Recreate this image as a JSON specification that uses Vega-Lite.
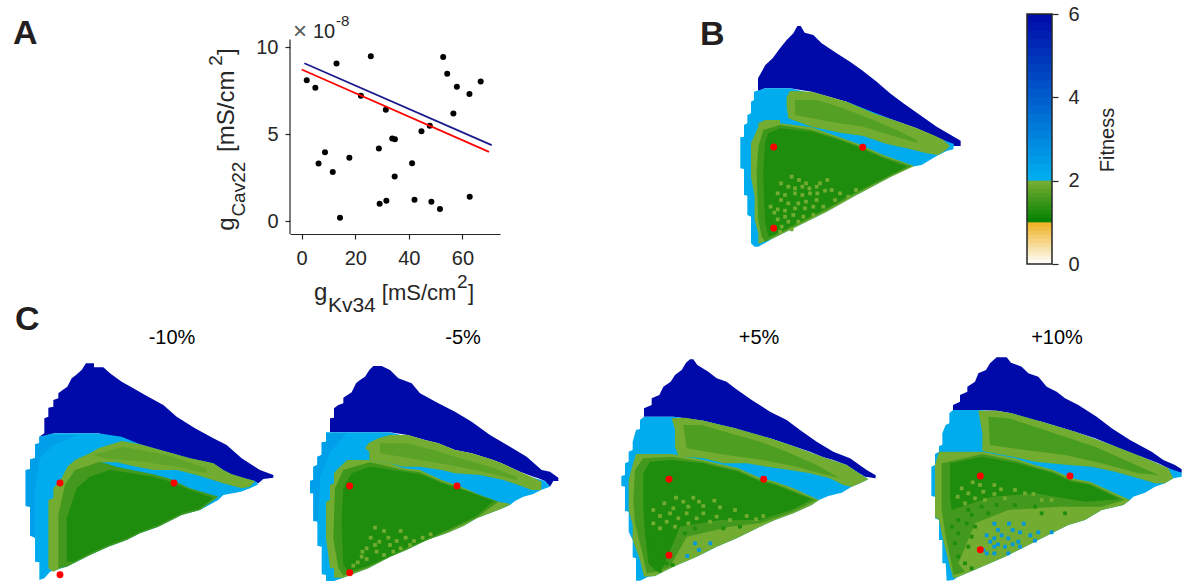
{"$schema":"https://vega.github.io/schema/vega-lite/v6.json","padding":0,"columns":4,"spacing":0,"bounds":"flush","background":"white",
"config":{"font":"Liberation Sans","view":{"stroke":null},"axis":{"grid":false,"labelFont":"Liberation Sans","labelFontSize":20,"labelColor":"#262626","tickColor":"#262626","domainColor":"#262626","tickWidth":1.2,"domainWidth":1.2,"title":null}},
"datasets":{
"polyB":[
{"r":1,"v":6,"x":84,"y":213},{"r":1,"v":6,"x":84,"y":175},{"r":1,"v":6,"x":95,"y":155},{"r":1,"v":6,"x":106,"y":135},{"r":1,"v":6,"x":128,"y":115},{"r":1,"v":6,"x":150,"y":85},{"r":1,"v":6,"x":170,"y":60},{"r":1,"v":6,"x":190,"y":40},{"r":1,"v":6,"x":202,"y":18},{"r":1,"v":6,"x":212,"y":18},{"r":1,"v":6,"x":224,"y":38},{"r":1,"v":6,"x":250,"y":45},{"r":1,"v":6,"x":275,"y":70},{"r":1,"v":6,"x":320,"y":100},{"r":1,"v":6,"x":360,"y":125},{"r":1,"v":6,"x":395,"y":150},{"r":1,"v":6,"x":440,"y":185},{"r":1,"v":6,"x":480,"y":220},{"r":1,"v":6,"x":520,"y":250},{"r":1,"v":6,"x":570,"y":285},{"r":1,"v":6,"x":620,"y":320},{"r":1,"v":6,"x":692,"y":362},{"r":1,"v":6,"x":692,"y":378},{"r":1,"v":6,"x":670,"y":378},{"r":1,"v":6,"x":640,"y":360},{"r":1,"v":6,"x":560,"y":325},{"r":1,"v":6,"x":490,"y":300},{"r":1,"v":6,"x":430,"y":280},{"r":1,"v":6,"x":350,"y":245},{"r":1,"v":6,"x":245,"y":215},{"r":1,"v":6,"x":180,"y":205},{"r":1,"v":6,"x":105,"y":205},
{"r":2,"v":2.1,"x":105,"y":205},{"r":2,"v":2.1,"x":180,"y":205},{"r":2,"v":2.1,"x":350,"y":245},{"r":2,"v":2.1,"x":490,"y":300},{"r":2,"v":2.1,"x":640,"y":360},{"r":2,"v":2.1,"x":672,"y":372},{"r":2,"v":2.1,"x":670,"y":388},{"r":2,"v":2.1,"x":650,"y":393},{"r":2,"v":2.1,"x":620,"y":408},{"r":2,"v":2.1,"x":575,"y":435},{"r":2,"v":2.1,"x":545,"y":440},{"r":2,"v":2.1,"x":480,"y":472},{"r":2,"v":2.1,"x":370,"y":530},{"r":2,"v":2.1,"x":290,"y":575},{"r":2,"v":2.1,"x":190,"y":625},{"r":2,"v":2.1,"x":130,"y":655},{"r":2,"v":2.1,"x":85,"y":680},{"r":2,"v":2.1,"x":74,"y":680},{"r":2,"v":2.1,"x":63,"y":670},{"r":2,"v":2.1,"x":63,"y":590},{"r":2,"v":2.1,"x":52,"y":585},{"r":2,"v":2.1,"x":52,"y":527},{"r":2,"v":2.1,"x":42,"y":525},{"r":2,"v":2.1,"x":42,"y":447},{"r":2,"v":2.1,"x":31,"y":445},{"r":2,"v":2.1,"x":31,"y":352},{"r":2,"v":2.1,"x":42,"y":350},{"r":2,"v":2.1,"x":42,"y":315},{"r":2,"v":2.1,"x":52,"y":310},{"r":2,"v":2.1,"x":52,"y":285},{"r":2,"v":2.1,"x":63,"y":280},{"r":2,"v":2.1,"x":63,"y":245},{"r":2,"v":2.1,"x":72,"y":240},{"r":2,"v":2.1,"x":72,"y":215},
{"r":3,"v":1.95,"x":180,"y":213},{"r":3,"v":1.95,"x":245,"y":215},{"r":3,"v":1.95,"x":350,"y":245},{"r":3,"v":1.95,"x":430,"y":280},{"r":3,"v":1.95,"x":490,"y":300},{"r":3,"v":1.95,"x":560,"y":325},{"r":3,"v":1.95,"x":610,"y":345},{"r":3,"v":1.95,"x":640,"y":360},{"r":3,"v":1.95,"x":660,"y":378},{"r":3,"v":1.95,"x":648,"y":390},{"r":3,"v":1.95,"x":625,"y":405},{"r":3,"v":1.95,"x":590,"y":400},{"r":3,"v":1.95,"x":530,"y":385},{"r":3,"v":1.95,"x":470,"y":372},{"r":3,"v":1.95,"x":400,"y":348},{"r":3,"v":1.95,"x":330,"y":338},{"r":3,"v":1.95,"x":245,"y":320},{"r":3,"v":1.95,"x":175,"y":295},{"r":3,"v":1.95,"x":170,"y":260},{"r":3,"v":1.95,"x":170,"y":232},
{"r":4,"v":1.7,"x":195,"y":240},{"r":4,"v":1.7,"x":260,"y":240},{"r":4,"v":1.7,"x":340,"y":265},{"r":4,"v":1.7,"x":430,"y":300},{"r":4,"v":1.7,"x":500,"y":330},{"r":4,"v":1.7,"x":560,"y":360},{"r":4,"v":1.7,"x":560,"y":368},{"r":4,"v":1.7,"x":480,"y":345},{"r":4,"v":1.7,"x":400,"y":320},{"r":4,"v":1.7,"x":300,"y":305},{"r":4,"v":1.7,"x":195,"y":285},
{"r":5,"v":1.95,"x":85,"y":310},{"r":5,"v":1.95,"x":105,"y":300},{"r":5,"v":1.95,"x":150,"y":300},{"r":5,"v":1.95,"x":150,"y":310},{"r":5,"v":1.95,"x":245,"y":322},{"r":5,"v":1.95,"x":310,"y":345},{"r":5,"v":1.95,"x":380,"y":370},{"r":5,"v":1.95,"x":460,"y":405},{"r":5,"v":1.95,"x":553,"y":438},{"r":5,"v":1.95,"x":545,"y":442},{"r":5,"v":1.95,"x":480,"y":472},{"r":5,"v":1.95,"x":370,"y":530},{"r":5,"v":1.95,"x":290,"y":575},{"r":5,"v":1.95,"x":190,"y":625},{"r":5,"v":1.95,"x":130,"y":655},{"r":5,"v":1.95,"x":85,"y":672},{"r":5,"v":1.95,"x":85,"y":640},{"r":5,"v":1.95,"x":74,"y":600},{"r":5,"v":1.95,"x":74,"y":530},{"r":5,"v":1.95,"x":63,"y":470},{"r":5,"v":1.95,"x":63,"y":370},{"r":5,"v":1.95,"x":74,"y":345},{"r":5,"v":1.95,"x":85,"y":320},
{"r":6,"v":1.5,"x":100,"y":330},{"r":6,"v":1.5,"x":150,"y":315},{"r":6,"v":1.5,"x":245,"y":330},{"r":6,"v":1.5,"x":310,"y":350},{"r":6,"v":1.5,"x":380,"y":375},{"r":6,"v":1.5,"x":460,"y":410},{"r":6,"v":1.5,"x":545,"y":438},{"r":6,"v":1.5,"x":480,"y":468},{"r":6,"v":1.5,"x":370,"y":525},{"r":6,"v":1.5,"x":290,"y":570},{"r":6,"v":1.5,"x":190,"y":620},{"r":6,"v":1.5,"x":130,"y":650},{"r":6,"v":1.5,"x":105,"y":665},{"r":6,"v":1.5,"x":95,"y":650},{"r":6,"v":1.5,"x":85,"y":600},{"r":6,"v":1.5,"x":80,"y":460},{"r":6,"v":1.5,"x":85,"y":380},
{"r":7,"v":1.25,"x":115,"y":340},{"r":7,"v":1.25,"x":150,"y":325},{"r":7,"v":1.25,"x":245,"y":335},{"r":7,"v":1.25,"x":310,"y":355},{"r":7,"v":1.25,"x":380,"y":380},{"r":7,"v":1.25,"x":460,"y":415},{"r":7,"v":1.25,"x":530,"y":440},{"r":7,"v":1.25,"x":480,"y":465},{"r":7,"v":1.25,"x":370,"y":520},{"r":7,"v":1.25,"x":290,"y":565},{"r":7,"v":1.25,"x":190,"y":615},{"r":7,"v":1.25,"x":130,"y":645},{"r":7,"v":1.25,"x":115,"y":650},{"r":7,"v":1.25,"x":105,"y":600},{"r":7,"v":1.25,"x":100,"y":460},{"r":7,"v":1.25,"x":105,"y":370}],
"spkB":[{"v":1.95,"x":185,"y":470},{"v":1.95,"x":207,"y":480},{"v":1.95,"x":153,"y":490},{"v":1.95,"x":228,"y":490},{"v":1.95,"x":292,"y":480},{"v":1.95,"x":175,"y":500},{"v":1.95,"x":195,"y":505},{"v":1.95,"x":217,"y":500},{"v":1.95,"x":238,"y":505},{"v":1.95,"x":270,"y":490},{"v":1.95,"x":260,"y":500},{"v":1.95,"x":143,"y":520},{"v":1.95,"x":165,"y":525},{"v":1.95,"x":195,"y":520},{"v":1.95,"x":217,"y":525},{"v":1.95,"x":240,"y":520},{"v":1.95,"x":262,"y":520},{"v":1.95,"x":285,"y":512},{"v":1.95,"x":305,"y":510},{"v":1.95,"x":330,"y":520},{"v":1.95,"x":355,"y":530},{"v":1.95,"x":378,"y":510},{"v":1.95,"x":153,"y":540},{"v":1.95,"x":175,"y":550},{"v":1.95,"x":205,"y":550},{"v":1.95,"x":228,"y":545},{"v":1.95,"x":260,"y":540},{"v":1.95,"x":315,"y":540},{"v":1.95,"x":122,"y":560},{"v":1.95,"x":143,"y":568},{"v":1.95,"x":165,"y":572},{"v":1.95,"x":195,"y":565},{"v":1.95,"x":225,"y":565},{"v":1.95,"x":250,"y":560},{"v":1.95,"x":280,"y":560},{"v":1.95,"x":133,"y":578},{"v":1.95,"x":165,"y":590},{"v":1.95,"x":190,"y":585},{"v":1.95,"x":220,"y":590},{"v":1.95,"x":250,"y":585},{"v":1.95,"x":143,"y":598},{"v":1.95,"x":175,"y":605},{"v":1.95,"x":205,"y":605},{"v":1.95,"x":155,"y":620},{"v":1.95,"x":185,"y":628},{"v":1.95,"x":150,"y":635}],
"polyC1":[
{"r":1,"v":6,"x":88,"y":245},{"r":1,"v":6,"x":103,"y":235},{"r":1,"v":6,"x":103,"y":190},{"r":1,"v":6,"x":115,"y":185},{"r":1,"v":6,"x":115,"y":158},{"r":1,"v":6,"x":130,"y":155},{"r":1,"v":6,"x":130,"y":135},{"r":1,"v":6,"x":145,"y":130},{"r":1,"v":6,"x":145,"y":115},{"r":1,"v":6,"x":158,"y":105},{"r":1,"v":6,"x":172,"y":95},{"r":1,"v":6,"x":185,"y":70},{"r":1,"v":6,"x":198,"y":60},{"r":1,"v":6,"x":215,"y":45},{"r":1,"v":6,"x":228,"y":25},{"r":1,"v":6,"x":252,"y":25},{"r":1,"v":6,"x":252,"y":37},{"r":1,"v":6,"x":280,"y":37},{"r":1,"v":6,"x":300,"y":55},{"r":1,"v":6,"x":335,"y":80},{"r":1,"v":6,"x":362,"y":95},{"r":1,"v":6,"x":405,"y":120},{"r":1,"v":6,"x":460,"y":150},{"r":1,"v":6,"x":500,"y":185},{"r":1,"v":6,"x":555,"y":220},{"r":1,"v":6,"x":610,"y":250},{"r":1,"v":6,"x":650,"y":270},{"r":1,"v":6,"x":695,"y":310},{"r":1,"v":6,"x":750,"y":345},{"r":1,"v":6,"x":790,"y":360},{"r":1,"v":6,"x":790,"y":368},{"r":1,"v":6,"x":760,"y":372},{"r":1,"v":6,"x":745,"y":385},{"r":1,"v":6,"x":735,"y":380},{"r":1,"v":6,"x":705,"y":372},{"r":1,"v":6,"x":665,"y":360},{"r":1,"v":6,"x":640,"y":347},{"r":1,"v":6,"x":610,"y":327},{"r":1,"v":6,"x":540,"y":312},{"r":1,"v":6,"x":470,"y":292},{"r":1,"v":6,"x":430,"y":282},{"r":1,"v":6,"x":390,"y":270},{"r":1,"v":6,"x":335,"y":258},{"r":1,"v":6,"x":300,"y":245},{"r":1,"v":6,"x":265,"y":235},{"r":1,"v":6,"x":130,"y":235},{"r":1,"v":6,"x":130,"y":245},
{"r":2,"v":2.1,"x":130,"y":235},{"r":2,"v":2.1,"x":265,"y":235},{"r":2,"v":2.1,"x":335,"y":245},{"r":2,"v":2.1,"x":390,"y":268},{"r":2,"v":2.1,"x":470,"y":290},{"r":2,"v":2.1,"x":540,"y":310},{"r":2,"v":2.1,"x":610,"y":325},{"r":2,"v":2.1,"x":640,"y":345},{"r":2,"v":2.1,"x":665,"y":358},{"r":2,"v":2.1,"x":705,"y":370},{"r":2,"v":2.1,"x":735,"y":378},{"r":2,"v":2.1,"x":745,"y":388},{"r":2,"v":2.1,"x":720,"y":400},{"r":2,"v":2.1,"x":693,"y":410},{"r":2,"v":2.1,"x":640,"y":420},{"r":2,"v":2.1,"x":625,"y":435},{"r":2,"v":2.1,"x":570,"y":465},{"r":2,"v":2.1,"x":515,"y":480},{"r":2,"v":2.1,"x":445,"y":515},{"r":2,"v":2.1,"x":390,"y":535},{"r":2,"v":2.1,"x":350,"y":555},{"r":2,"v":2.1,"x":295,"y":575},{"r":2,"v":2.1,"x":240,"y":600},{"r":2,"v":2.1,"x":170,"y":635},{"r":2,"v":2.1,"x":120,"y":650},{"r":2,"v":2.1,"x":103,"y":670},{"r":2,"v":2.1,"x":88,"y":675},{"r":2,"v":2.1,"x":88,"y":622},{"r":2,"v":2.1,"x":75,"y":620},{"r":2,"v":2.1,"x":75,"y":545},{"r":2,"v":2.1,"x":60,"y":543},{"r":2,"v":2.1,"x":60,"y":455},{"r":2,"v":2.1,"x":47,"y":453},{"r":2,"v":2.1,"x":47,"y":345},{"r":2,"v":2.1,"x":60,"y":343},{"r":2,"v":2.1,"x":60,"y":313},{"r":2,"v":2.1,"x":75,"y":310},{"r":2,"v":2.1,"x":75,"y":268},{"r":2,"v":2.1,"x":88,"y":265},{"r":2,"v":2.1,"x":88,"y":245},
{"r":3,"v":2.4,"x":47,"y":345},{"r":3,"v":2.4,"x":60,"y":343},{"r":3,"v":2.4,"x":60,"y":313},{"r":3,"v":2.4,"x":75,"y":310},{"r":3,"v":2.4,"x":75,"y":268},{"r":3,"v":2.4,"x":88,"y":265},{"r":3,"v":2.4,"x":88,"y":245},{"r":3,"v":2.4,"x":130,"y":240},{"r":3,"v":2.4,"x":200,"y":240},{"r":3,"v":2.4,"x":130,"y":270},{"r":3,"v":2.4,"x":90,"y":310},{"r":3,"v":2.4,"x":75,"y":400},{"r":3,"v":2.4,"x":75,"y":550},{"r":3,"v":2.4,"x":60,"y":540},{"r":3,"v":2.4,"x":60,"y":455},{"r":3,"v":2.4,"x":47,"y":453},
{"r":4,"v":1.95,"x":115,"y":640},{"r":4,"v":1.95,"x":115,"y":435},{"r":4,"v":1.95,"x":130,"y":430},{"r":4,"v":1.95,"x":130,"y":400},{"r":4,"v":1.95,"x":155,"y":370},{"r":4,"v":1.95,"x":172,"y":335},{"r":4,"v":1.95,"x":195,"y":315},{"r":4,"v":1.95,"x":240,"y":295},{"r":4,"v":1.95,"x":265,"y":280},{"r":4,"v":1.95,"x":335,"y":258},{"r":4,"v":1.95,"x":390,"y":268},{"r":4,"v":1.95,"x":470,"y":290},{"r":4,"v":1.95,"x":540,"y":310},{"r":4,"v":1.95,"x":610,"y":325},{"r":4,"v":1.95,"x":640,"y":345},{"r":4,"v":1.95,"x":665,"y":358},{"r":4,"v":1.95,"x":705,"y":370},{"r":4,"v":1.95,"x":735,"y":378},{"r":4,"v":1.95,"x":720,"y":395},{"r":4,"v":1.95,"x":695,"y":400},{"r":4,"v":1.95,"x":640,"y":385},{"r":4,"v":1.95,"x":560,"y":360},{"r":4,"v":1.95,"x":500,"y":345},{"r":4,"v":1.95,"x":430,"y":345},{"r":4,"v":1.95,"x":365,"y":332},{"r":4,"v":1.95,"x":320,"y":322},{"r":4,"v":1.95,"x":270,"y":322},{"r":4,"v":1.95,"x":205,"y":345},{"r":4,"v":1.95,"x":175,"y":385},{"r":4,"v":1.95,"x":160,"y":440},{"r":4,"v":1.95,"x":160,"y":635},{"r":4,"v":1.95,"x":130,"y":650},
{"r":5,"v":1.8,"x":250,"y":300},{"r":5,"v":1.8,"x":340,"y":275},{"r":5,"v":1.8,"x":470,"y":300},{"r":5,"v":1.8,"x":590,"y":340},{"r":5,"v":1.8,"x":590,"y":355},{"r":5,"v":1.8,"x":500,"y":335},{"r":5,"v":1.8,"x":400,"y":320},{"r":5,"v":1.8,"x":280,"y":310},
{"r":6,"v":1.55,"x":145,"y":640},{"r":6,"v":1.55,"x":145,"y":480},{"r":6,"v":1.55,"x":165,"y":390},{"r":6,"v":1.55,"x":195,"y":345},{"r":6,"v":1.55,"x":270,"y":320},{"r":6,"v":1.55,"x":320,"y":335},{"r":6,"v":1.55,"x":365,"y":345},{"r":6,"v":1.55,"x":430,"y":358},{"r":6,"v":1.55,"x":475,"y":370},{"r":6,"v":1.55,"x":540,"y":400},{"r":6,"v":1.55,"x":625,"y":425},{"r":6,"v":1.55,"x":570,"y":465},{"r":6,"v":1.55,"x":515,"y":480},{"r":6,"v":1.55,"x":445,"y":515},{"r":6,"v":1.55,"x":390,"y":535},{"r":6,"v":1.55,"x":350,"y":555},{"r":6,"v":1.55,"x":295,"y":575},{"r":6,"v":1.55,"x":240,"y":600},{"r":6,"v":1.55,"x":170,"y":635},
{"r":7,"v":1.25,"x":170,"y":620},{"r":7,"v":1.25,"x":170,"y":490},{"r":7,"v":1.25,"x":200,"y":400},{"r":7,"v":1.25,"x":240,"y":365},{"r":7,"v":1.25,"x":300,"y":345},{"r":7,"v":1.25,"x":365,"y":355},{"r":7,"v":1.25,"x":430,"y":365},{"r":7,"v":1.25,"x":475,"y":378},{"r":7,"v":1.25,"x":540,"y":405},{"r":7,"v":1.25,"x":610,"y":428},{"r":7,"v":1.25,"x":570,"y":460},{"r":7,"v":1.25,"x":515,"y":475},{"r":7,"v":1.25,"x":445,"y":510},{"r":7,"v":1.25,"x":390,"y":530},{"r":7,"v":1.25,"x":350,"y":550},{"r":7,"v":1.25,"x":295,"y":570},{"r":7,"v":1.25,"x":240,"y":595},{"r":7,"v":1.25,"x":190,"y":620}],
"polyC2":[
{"r":1,"v":6,"x":60,"y":232},{"r":1,"v":6,"x":60,"y":190},{"r":1,"v":6,"x":72,"y":188},{"r":1,"v":6,"x":72,"y":160},{"r":1,"v":6,"x":85,"y":150},{"r":1,"v":6,"x":100,"y":145},{"r":1,"v":6,"x":100,"y":128},{"r":1,"v":6,"x":125,"y":112},{"r":1,"v":6,"x":138,"y":85},{"r":1,"v":6,"x":150,"y":75},{"r":1,"v":6,"x":165,"y":65},{"r":1,"v":6,"x":178,"y":45},{"r":1,"v":6,"x":190,"y":33},{"r":1,"v":6,"x":215,"y":33},{"r":1,"v":6,"x":240,"y":45},{"r":1,"v":6,"x":265,"y":70},{"r":1,"v":6,"x":305,"y":85},{"r":1,"v":6,"x":330,"y":115},{"r":1,"v":6,"x":385,"y":145},{"r":1,"v":6,"x":435,"y":170},{"r":1,"v":6,"x":485,"y":200},{"r":1,"v":6,"x":540,"y":240},{"r":1,"v":6,"x":600,"y":275},{"r":1,"v":6,"x":650,"y":305},{"r":1,"v":6,"x":695,"y":345},{"r":1,"v":6,"x":720,"y":350},{"r":1,"v":6,"x":745,"y":368},{"r":1,"v":6,"x":745,"y":378},{"r":1,"v":6,"x":730,"y":378},{"r":1,"v":6,"x":720,"y":395},{"r":1,"v":6,"x":705,"y":378},{"r":1,"v":6,"x":685,"y":370},{"r":1,"v":6,"x":670,"y":365},{"r":1,"v":6,"x":630,"y":350},{"r":1,"v":6,"x":575,"y":325},{"r":1,"v":6,"x":550,"y":315},{"r":1,"v":6,"x":485,"y":295},{"r":1,"v":6,"x":435,"y":285},{"r":1,"v":6,"x":385,"y":265},{"r":1,"v":6,"x":345,"y":255},{"r":1,"v":6,"x":293,"y":240},{"r":1,"v":6,"x":240,"y":232},
{"r":2,"v":2.1,"x":48,"y":232},{"r":2,"v":2.1,"x":240,"y":232},{"r":2,"v":2.1,"x":293,"y":245},{"r":2,"v":2.1,"x":345,"y":262},{"r":2,"v":2.1,"x":385,"y":270},{"r":2,"v":2.1,"x":435,"y":290},{"r":2,"v":2.1,"x":485,"y":305},{"r":2,"v":2.1,"x":550,"y":320},{"r":2,"v":2.1,"x":575,"y":335},{"r":2,"v":2.1,"x":630,"y":355},{"r":2,"v":2.1,"x":670,"y":368},{"r":2,"v":2.1,"x":705,"y":378},{"r":2,"v":2.1,"x":720,"y":395},{"r":2,"v":2.1,"x":693,"y":405},{"r":2,"v":2.1,"x":668,"y":418},{"r":2,"v":2.1,"x":640,"y":425},{"r":2,"v":2.1,"x":615,"y":438},{"r":2,"v":2.1,"x":600,"y":450},{"r":2,"v":2.1,"x":578,"y":460},{"r":2,"v":2.1,"x":500,"y":490},{"r":2,"v":2.1,"x":462,"y":512},{"r":2,"v":2.1,"x":410,"y":535},{"r":2,"v":2.1,"x":350,"y":555},{"r":2,"v":2.1,"x":290,"y":585},{"r":2,"v":2.1,"x":240,"y":605},{"r":2,"v":2.1,"x":175,"y":640},{"r":2,"v":2.1,"x":100,"y":668},{"r":2,"v":2.1,"x":72,"y":678},{"r":2,"v":2.1,"x":48,"y":678},{"r":2,"v":2.1,"x":48,"y":660},{"r":2,"v":2.1,"x":35,"y":658},{"r":2,"v":2.1,"x":35,"y":575},{"r":2,"v":2.1,"x":22,"y":572},{"r":2,"v":2.1,"x":22,"y":500},{"r":2,"v":2.1,"x":10,"y":498},{"r":2,"v":2.1,"x":10,"y":415},{"r":2,"v":2.1,"x":0,"y":415},{"r":2,"v":2.1,"x":0,"y":378},{"r":2,"v":2.1,"x":10,"y":375},{"r":2,"v":2.1,"x":10,"y":335},{"r":2,"v":2.1,"x":22,"y":330},{"r":2,"v":2.1,"x":22,"y":305},{"r":2,"v":2.1,"x":35,"y":300},{"r":2,"v":2.1,"x":35,"y":262},{"r":2,"v":2.1,"x":48,"y":260},
{"r":3,"v":2.4,"x":0,"y":378},{"r":3,"v":2.4,"x":10,"y":375},{"r":3,"v":2.4,"x":10,"y":335},{"r":3,"v":2.4,"x":22,"y":330},{"r":3,"v":2.4,"x":22,"y":305},{"r":3,"v":2.4,"x":35,"y":300},{"r":3,"v":2.4,"x":35,"y":262},{"r":3,"v":2.4,"x":48,"y":260},{"r":3,"v":2.4,"x":48,"y":235},{"r":3,"v":2.4,"x":110,"y":235},{"r":3,"v":2.4,"x":60,"y":290},{"r":3,"v":2.4,"x":30,"y":370},{"r":3,"v":2.4,"x":25,"y":495},{"r":3,"v":2.4,"x":10,"y":498},{"r":3,"v":2.4,"x":10,"y":415},{"r":3,"v":2.4,"x":0,"y":415},
{"r":4,"v":1.95,"x":165,"y":280},{"r":4,"v":1.95,"x":175,"y":265},{"r":4,"v":1.95,"x":205,"y":250},{"r":4,"v":1.95,"x":240,"y":240},{"r":4,"v":1.95,"x":293,"y":240},{"r":4,"v":1.95,"x":345,"y":255},{"r":4,"v":1.95,"x":385,"y":265},{"r":4,"v":1.95,"x":435,"y":285},{"r":4,"v":1.95,"x":485,"y":295},{"r":4,"v":1.95,"x":550,"y":315},{"r":4,"v":1.95,"x":575,"y":325},{"r":4,"v":1.95,"x":630,"y":350},{"r":4,"v":1.95,"x":670,"y":368},{"r":4,"v":1.95,"x":695,"y":380},{"r":4,"v":1.95,"x":693,"y":405},{"r":4,"v":1.95,"x":665,"y":405},{"r":4,"v":1.95,"x":640,"y":395},{"r":4,"v":1.95,"x":580,"y":375},{"r":4,"v":1.95,"x":510,"y":360},{"r":4,"v":1.95,"x":435,"y":355},{"r":4,"v":1.95,"x":395,"y":345},{"r":4,"v":1.95,"x":330,"y":335},{"r":4,"v":1.95,"x":280,"y":335},{"r":4,"v":1.95,"x":240,"y":325},{"r":4,"v":1.95,"x":178,"y":315},{"r":4,"v":1.95,"x":178,"y":290},
{"r":5,"v":1.75,"x":210,"y":265},{"r":5,"v":1.75,"x":290,"y":265},{"r":5,"v":1.75,"x":370,"y":285},{"r":5,"v":1.75,"x":450,"y":310},{"r":5,"v":1.75,"x":540,"y":335},{"r":5,"v":1.75,"x":620,"y":365},{"r":5,"v":1.75,"x":620,"y":375},{"r":5,"v":1.75,"x":520,"y":350},{"r":5,"v":1.75,"x":420,"y":330},{"r":5,"v":1.75,"x":300,"y":310},{"r":5,"v":1.75,"x":210,"y":295},
{"r":6,"v":1.95,"x":60,"y":640},{"r":6,"v":1.95,"x":48,"y":550},{"r":6,"v":1.95,"x":48,"y":440},{"r":6,"v":1.95,"x":60,"y":435},{"r":6,"v":1.95,"x":60,"y":390},{"r":6,"v":1.95,"x":72,"y":385},{"r":6,"v":1.95,"x":72,"y":355},{"r":6,"v":1.95,"x":85,"y":340},{"r":6,"v":1.95,"x":112,"y":315},{"r":6,"v":1.95,"x":178,"y":315},{"r":6,"v":1.95,"x":240,"y":325},{"r":6,"v":1.95,"x":280,"y":340},{"r":6,"v":1.95,"x":330,"y":345},{"r":6,"v":1.95,"x":395,"y":375},{"r":6,"v":1.95,"x":460,"y":398},{"r":6,"v":1.95,"x":510,"y":420},{"r":6,"v":1.95,"x":565,"y":440},{"r":6,"v":1.95,"x":603,"y":447},{"r":6,"v":1.95,"x":578,"y":460},{"r":6,"v":1.95,"x":500,"y":490},{"r":6,"v":1.95,"x":462,"y":512},{"r":6,"v":1.95,"x":410,"y":535},{"r":6,"v":1.95,"x":350,"y":555},{"r":6,"v":1.95,"x":290,"y":585},{"r":6,"v":1.95,"x":240,"y":605},{"r":6,"v":1.95,"x":175,"y":640},{"r":6,"v":1.95,"x":100,"y":668},{"r":6,"v":1.95,"x":72,"y":668},{"r":6,"v":1.95,"x":72,"y":640},
{"r":7,"v":1.5,"x":85,"y":640},{"r":7,"v":1.5,"x":70,"y":550},{"r":7,"v":1.5,"x":75,"y":400},{"r":7,"v":1.5,"x":100,"y":345},{"r":7,"v":1.5,"x":180,"y":322},{"r":7,"v":1.5,"x":240,"y":335},{"r":7,"v":1.5,"x":280,"y":345},{"r":7,"v":1.5,"x":330,"y":352},{"r":7,"v":1.5,"x":395,"y":380},{"r":7,"v":1.5,"x":460,"y":402},{"r":7,"v":1.5,"x":565,"y":440},{"r":7,"v":1.5,"x":500,"y":488},{"r":7,"v":1.5,"x":410,"y":530},{"r":7,"v":1.5,"x":290,"y":582},{"r":7,"v":1.5,"x":175,"y":637},{"r":7,"v":1.5,"x":100,"y":662},
{"r":8,"v":1.25,"x":100,"y":630},{"r":8,"v":1.25,"x":95,"y":500},{"r":8,"v":1.25,"x":100,"y":400},{"r":8,"v":1.25,"x":125,"y":355},{"r":8,"v":1.25,"x":180,"y":335},{"r":8,"v":1.25,"x":280,"y":350},{"r":8,"v":1.25,"x":330,"y":358},{"r":8,"v":1.25,"x":395,"y":385},{"r":8,"v":1.25,"x":460,"y":405},{"r":8,"v":1.25,"x":550,"y":438},{"r":8,"v":1.25,"x":500,"y":482},{"r":8,"v":1.25,"x":410,"y":525},{"r":8,"v":1.25,"x":290,"y":578},{"r":8,"v":1.25,"x":175,"y":632},{"r":8,"v":1.25,"x":115,"y":650}],
"spkC2":[{"v":1.95,"x":195,"y":518},{"v":1.95,"x":222,"y":528},{"v":1.95,"x":272,"y":528},{"v":1.95,"x":182,"y":548},{"v":1.95,"x":235,"y":548},{"v":1.95,"x":287,"y":548},{"v":1.95,"x":208,"y":560},{"v":1.95,"x":260,"y":558},{"v":1.95,"x":338,"y":548},{"v":1.95,"x":362,"y":538},{"v":1.95,"x":312,"y":558},{"v":1.95,"x":195,"y":570},{"v":1.95,"x":240,"y":570},{"v":1.95,"x":272,"y":580},{"v":1.95,"x":300,"y":570},{"v":1.95,"x":157,"y":590},{"v":1.95,"x":170,"y":580},{"v":1.95,"x":200,"y":590},{"v":1.95,"x":222,"y":600},{"v":1.95,"x":170,"y":612},{"v":1.95,"x":143,"y":622},{"v":1.95,"x":130,"y":632},{"v":1.95,"x":155,"y":605},{"v":1.95,"x":250,"y":590}],
"polyC3":[
{"r":1,"v":6,"x":72,"y":200},{"r":1,"v":6,"x":72,"y":175},{"r":1,"v":6,"x":95,"y":165},{"r":1,"v":6,"x":95,"y":145},{"r":1,"v":6,"x":118,"y":135},{"r":1,"v":6,"x":130,"y":110},{"r":1,"v":6,"x":152,"y":95},{"r":1,"v":6,"x":165,"y":75},{"r":1,"v":6,"x":185,"y":60},{"r":1,"v":6,"x":198,"y":38},{"r":1,"v":6,"x":210,"y":28},{"r":1,"v":6,"x":220,"y":28},{"r":1,"v":6,"x":232,"y":45},{"r":1,"v":6,"x":265,"y":65},{"r":1,"v":6,"x":290,"y":85},{"r":1,"v":6,"x":320,"y":95},{"r":1,"v":6,"x":345,"y":115},{"r":1,"v":6,"x":395,"y":150},{"r":1,"v":6,"x":450,"y":185},{"r":1,"v":6,"x":500,"y":210},{"r":1,"v":6,"x":540,"y":240},{"r":1,"v":6,"x":590,"y":275},{"r":1,"v":6,"x":640,"y":305},{"r":1,"v":6,"x":690,"y":325},{"r":1,"v":6,"x":740,"y":360},{"r":1,"v":6,"x":767,"y":376},{"r":1,"v":6,"x":767,"y":385},{"r":1,"v":6,"x":735,"y":380},{"r":1,"v":6,"x":710,"y":365},{"r":1,"v":6,"x":680,"y":345},{"r":1,"v":6,"x":640,"y":330},{"r":1,"v":6,"x":610,"y":322},{"r":1,"v":6,"x":570,"y":305},{"r":1,"v":6,"x":510,"y":285},{"r":1,"v":6,"x":450,"y":265},{"r":1,"v":6,"x":400,"y":255},{"r":1,"v":6,"x":345,"y":235},{"r":1,"v":6,"x":300,"y":225},{"r":1,"v":6,"x":250,"y":212},{"r":1,"v":6,"x":195,"y":205},{"r":1,"v":6,"x":160,"y":200},
{"r":2,"v":2.1,"x":72,"y":200},{"r":2,"v":2.1,"x":160,"y":200},{"r":2,"v":2.1,"x":195,"y":205},{"r":2,"v":2.1,"x":250,"y":212},{"r":2,"v":2.1,"x":345,"y":235},{"r":2,"v":2.1,"x":450,"y":265},{"r":2,"v":2.1,"x":510,"y":285},{"r":2,"v":2.1,"x":610,"y":322},{"r":2,"v":2.1,"x":680,"y":345},{"r":2,"v":2.1,"x":710,"y":365},{"r":2,"v":2.1,"x":735,"y":380},{"r":2,"v":2.1,"x":745,"y":388},{"r":2,"v":2.1,"x":720,"y":400},{"r":2,"v":2.1,"x":695,"y":410},{"r":2,"v":2.1,"x":665,"y":428},{"r":2,"v":2.1,"x":625,"y":438},{"r":2,"v":2.1,"x":597,"y":450},{"r":2,"v":2.1,"x":575,"y":465},{"r":2,"v":2.1,"x":520,"y":490},{"r":2,"v":2.1,"x":465,"y":510},{"r":2,"v":2.1,"x":420,"y":530},{"r":2,"v":2.1,"x":350,"y":565},{"r":2,"v":2.1,"x":290,"y":590},{"r":2,"v":2.1,"x":230,"y":620},{"r":2,"v":2.1,"x":160,"y":650},{"r":2,"v":2.1,"x":105,"y":678},{"r":2,"v":2.1,"x":85,"y":680},{"r":2,"v":2.1,"x":60,"y":692},{"r":2,"v":2.1,"x":48,"y":692},{"r":2,"v":2.1,"x":48,"y":625},{"r":2,"v":2.1,"x":38,"y":622},{"r":2,"v":2.1,"x":38,"y":570},{"r":2,"v":2.1,"x":26,"y":545},{"r":2,"v":2.1,"x":26,"y":485},{"r":2,"v":2.1,"x":15,"y":483},{"r":2,"v":2.1,"x":15,"y":410},{"r":2,"v":2.1,"x":4,"y":408},{"r":2,"v":2.1,"x":4,"y":378},{"r":2,"v":2.1,"x":15,"y":375},{"r":2,"v":2.1,"x":15,"y":340},{"r":2,"v":2.1,"x":26,"y":335},{"r":2,"v":2.1,"x":26,"y":305},{"r":2,"v":2.1,"x":38,"y":300},{"r":2,"v":2.1,"x":38,"y":275},{"r":2,"v":2.1,"x":48,"y":240},{"r":2,"v":2.1,"x":60,"y":237},{"r":2,"v":2.1,"x":60,"y":210},
{"r":3,"v":1.95,"x":155,"y":205},{"r":3,"v":1.95,"x":195,"y":203},{"r":3,"v":1.95,"x":250,"y":212},{"r":3,"v":1.95,"x":345,"y":235},{"r":3,"v":1.95,"x":450,"y":265},{"r":3,"v":1.95,"x":510,"y":285},{"r":3,"v":1.95,"x":610,"y":322},{"r":3,"v":1.95,"x":680,"y":345},{"r":3,"v":1.95,"x":710,"y":365},{"r":3,"v":1.95,"x":745,"y":388},{"r":3,"v":1.95,"x":720,"y":400},{"r":3,"v":1.95,"x":695,"y":410},{"r":3,"v":1.95,"x":670,"y":405},{"r":3,"v":1.95,"x":630,"y":385},{"r":3,"v":1.95,"x":570,"y":370},{"r":3,"v":1.95,"x":510,"y":360},{"r":3,"v":1.95,"x":440,"y":350},{"r":3,"v":1.95,"x":380,"y":340},{"r":3,"v":1.95,"x":310,"y":340},{"r":3,"v":1.95,"x":250,"y":325},{"r":3,"v":1.95,"x":175,"y":318},{"r":3,"v":1.95,"x":165,"y":290},{"r":3,"v":1.95,"x":165,"y":240},
{"r":4,"v":1.65,"x":190,"y":225},{"r":4,"v":1.65,"x":245,"y":225},{"r":4,"v":1.65,"x":330,"y":250},{"r":4,"v":1.65,"x":420,"y":275},{"r":4,"v":1.65,"x":500,"y":305},{"r":4,"v":1.65,"x":590,"y":345},{"r":4,"v":1.65,"x":660,"y":385},{"r":4,"v":1.65,"x":620,"y":375},{"r":4,"v":1.65,"x":530,"y":350},{"r":4,"v":1.65,"x":430,"y":330},{"r":4,"v":1.65,"x":320,"y":315},{"r":4,"v":1.65,"x":200,"y":295},
{"r":5,"v":1.95,"x":26,"y":480},{"r":5,"v":1.95,"x":26,"y":390},{"r":5,"v":1.95,"x":38,"y":345},{"r":5,"v":1.95,"x":48,"y":312},{"r":5,"v":1.95,"x":155,"y":312},{"r":5,"v":1.95,"x":250,"y":330},{"r":5,"v":1.95,"x":290,"y":340},{"r":5,"v":1.95,"x":355,"y":355},{"r":5,"v":1.95,"x":415,"y":382},{"r":5,"v":1.95,"x":465,"y":395},{"r":5,"v":1.95,"x":520,"y":415},{"r":5,"v":1.95,"x":597,"y":450},{"r":5,"v":1.95,"x":575,"y":465},{"r":5,"v":1.95,"x":520,"y":490},{"r":5,"v":1.95,"x":465,"y":510},{"r":5,"v":1.95,"x":420,"y":530},{"r":5,"v":1.95,"x":350,"y":565},{"r":5,"v":1.95,"x":290,"y":590},{"r":5,"v":1.95,"x":230,"y":620},{"r":5,"v":1.95,"x":160,"y":650},{"r":5,"v":1.95,"x":105,"y":678},{"r":5,"v":1.95,"x":72,"y":680},{"r":5,"v":1.95,"x":60,"y":630},{"r":5,"v":1.95,"x":38,"y":570},{"r":5,"v":1.95,"x":38,"y":525},
{"r":6,"v":1.55,"x":40,"y":450},{"r":6,"v":1.55,"x":45,"y":360},{"r":6,"v":1.55,"x":70,"y":325},{"r":6,"v":1.55,"x":155,"y":320},{"r":6,"v":1.55,"x":250,"y":335},{"r":6,"v":1.55,"x":290,"y":345},{"r":6,"v":1.55,"x":355,"y":360},{"r":6,"v":1.55,"x":415,"y":388},{"r":6,"v":1.55,"x":465,"y":400},{"r":6,"v":1.55,"x":590,"y":450},{"r":6,"v":1.55,"x":520,"y":485},{"r":6,"v":1.55,"x":420,"y":520},{"r":6,"v":1.55,"x":330,"y":530},{"r":6,"v":1.55,"x":200,"y":560},{"r":6,"v":1.55,"x":150,"y":650},{"r":6,"v":1.55,"x":115,"y":665},{"r":6,"v":1.55,"x":80,"y":670},{"r":6,"v":1.55,"x":65,"y":600},{"r":6,"v":1.55,"x":45,"y":520},
{"r":7,"v":1.25,"x":70,"y":470},{"r":7,"v":1.25,"x":70,"y":370},{"r":7,"v":1.25,"x":90,"y":335},{"r":7,"v":1.25,"x":155,"y":330},{"r":7,"v":1.25,"x":250,"y":340},{"r":7,"v":1.25,"x":290,"y":350},{"r":7,"v":1.25,"x":355,"y":365},{"r":7,"v":1.25,"x":415,"y":392},{"r":7,"v":1.25,"x":465,"y":405},{"r":7,"v":1.25,"x":575,"y":448},{"r":7,"v":1.25,"x":520,"y":478},{"r":7,"v":1.25,"x":420,"y":510},{"r":7,"v":1.25,"x":300,"y":510},{"r":7,"v":1.25,"x":180,"y":530},{"r":7,"v":1.25,"x":130,"y":650},{"r":7,"v":1.25,"x":110,"y":665},{"r":7,"v":1.25,"x":85,"y":640},{"r":7,"v":1.25,"x":75,"y":550}],
"spkC3":[{"v":1.95,"x":168,"y":443},{"v":1.95,"x":220,"y":443},{"v":1.95,"x":190,"y":455},{"v":1.95,"x":133,"y":460},{"v":1.95,"x":237,"y":455},{"v":1.95,"x":283,"y":452},{"v":1.95,"x":205,"y":470},{"v":1.95,"x":250,"y":468},{"v":1.95,"x":100,"y":480},{"v":1.95,"x":160,"y":475},{"v":1.95,"x":300,"y":472},{"v":1.95,"x":150,"y":490},{"v":1.95,"x":200,"y":490},{"v":1.95,"x":250,"y":490},{"v":1.95,"x":345,"y":480},{"v":1.95,"x":120,"y":498},{"v":1.95,"x":175,"y":505},{"v":1.95,"x":230,"y":505},{"v":1.95,"x":290,"y":500},{"v":1.95,"x":380,"y":498},{"v":1.95,"x":430,"y":498},{"v":1.95,"x":100,"y":520},{"v":1.95,"x":140,"y":515},{"v":1.95,"x":205,"y":520},{"v":1.95,"x":270,"y":515},{"v":1.95,"x":330,"y":510},{"v":1.95,"x":408,"y":508},{"v":1.95,"x":120,"y":535},{"v":1.95,"x":165,"y":530},{"v":1.25,"x":130,"y":550},{"v":1.25,"x":150,"y":555},{"v":1.25,"x":110,"y":560},{"v":1.25,"x":195,"y":550},{"v":1.25,"x":225,"y":535},{"v":1.25,"x":310,"y":535},{"v":1.25,"x":360,"y":530},{"v":1.25,"x":150,"y":570},{"v":1.25,"x":90,"y":580},{"v":1.25,"x":140,"y":640},{"v":1.25,"x":158,"y":645},{"v":1.25,"x":120,"y":662},{"v":1.25,"x":110,"y":625},{"v":2.6,"x":225,"y":580},{"v":2.6,"x":271,"y":580},{"v":2.6,"x":237,"y":600},{"v":2.6,"x":202,"y":618}],
"polyC4":[
{"r":1,"v":6,"x":84,"y":180},{"r":1,"v":6,"x":84,"y":165},{"r":1,"v":6,"x":105,"y":155},{"r":1,"v":6,"x":105,"y":135},{"r":1,"v":6,"x":127,"y":125},{"r":1,"v":6,"x":127,"y":110},{"r":1,"v":6,"x":150,"y":95},{"r":1,"v":6,"x":160,"y":70},{"r":1,"v":6,"x":183,"y":60},{"r":1,"v":6,"x":195,"y":40},{"r":1,"v":6,"x":215,"y":22},{"r":1,"v":6,"x":245,"y":22},{"r":1,"v":6,"x":258,"y":38},{"r":1,"v":6,"x":290,"y":50},{"r":1,"v":6,"x":310,"y":70},{"r":1,"v":6,"x":340,"y":80},{"r":1,"v":6,"x":365,"y":110},{"r":1,"v":6,"x":395,"y":125},{"r":1,"v":6,"x":420,"y":145},{"r":1,"v":6,"x":460,"y":165},{"r":1,"v":6,"x":515,"y":200},{"r":1,"v":6,"x":560,"y":235},{"r":1,"v":6,"x":615,"y":270},{"r":1,"v":6,"x":680,"y":305},{"r":1,"v":6,"x":715,"y":330},{"r":1,"v":6,"x":750,"y":345},{"r":1,"v":6,"x":770,"y":358},{"r":1,"v":6,"x":770,"y":368},{"r":1,"v":6,"x":755,"y":368},{"r":1,"v":6,"x":730,"y":355},{"r":1,"v":6,"x":700,"y":340},{"r":1,"v":6,"x":650,"y":320},{"r":1,"v":6,"x":600,"y":305},{"r":1,"v":6,"x":560,"y":285},{"r":1,"v":6,"x":510,"y":265},{"r":1,"v":6,"x":450,"y":245},{"r":1,"v":6,"x":400,"y":230},{"r":1,"v":6,"x":350,"y":215},{"r":1,"v":6,"x":290,"y":205},{"r":1,"v":6,"x":260,"y":190},{"r":1,"v":6,"x":215,"y":182},{"r":1,"v":6,"x":160,"y":180},
{"r":2,"v":2.1,"x":84,"y":180},{"r":2,"v":2.1,"x":160,"y":180},{"r":2,"v":2.1,"x":260,"y":190},{"r":2,"v":2.1,"x":350,"y":215},{"r":2,"v":2.1,"x":450,"y":245},{"r":2,"v":2.1,"x":560,"y":285},{"r":2,"v":2.1,"x":650,"y":320},{"r":2,"v":2.1,"x":730,"y":355},{"r":2,"v":2.1,"x":770,"y":368},{"r":2,"v":2.1,"x":770,"y":380},{"r":2,"v":2.1,"x":745,"y":385},{"r":2,"v":2.1,"x":720,"y":400},{"r":2,"v":2.1,"x":690,"y":410},{"r":2,"v":2.1,"x":660,"y":428},{"r":2,"v":2.1,"x":625,"y":440},{"r":2,"v":2.1,"x":615,"y":450},{"r":2,"v":2.1,"x":595,"y":465},{"r":2,"v":2.1,"x":530,"y":480},{"r":2,"v":2.1,"x":480,"y":510},{"r":2,"v":2.1,"x":430,"y":525},{"r":2,"v":2.1,"x":380,"y":550},{"r":2,"v":2.1,"x":300,"y":590},{"r":2,"v":2.1,"x":240,"y":620},{"r":2,"v":2.1,"x":160,"y":655},{"r":2,"v":2.1,"x":100,"y":680},{"r":2,"v":2.1,"x":85,"y":690},{"r":2,"v":2.1,"x":65,"y":692},{"r":2,"v":2.1,"x":62,"y":640},{"r":2,"v":2.1,"x":52,"y":640},{"r":2,"v":2.1,"x":52,"y":570},{"r":2,"v":2.1,"x":42,"y":570},{"r":2,"v":2.1,"x":42,"y":510},{"r":2,"v":2.1,"x":30,"y":505},{"r":2,"v":2.1,"x":30,"y":440},{"r":2,"v":2.1,"x":19,"y":438},{"r":2,"v":2.1,"x":19,"y":350},{"r":2,"v":2.1,"x":30,"y":345},{"r":2,"v":2.1,"x":30,"y":312},{"r":2,"v":2.1,"x":42,"y":305},{"r":2,"v":2.1,"x":42,"y":288},{"r":2,"v":2.1,"x":52,"y":285},{"r":2,"v":2.1,"x":52,"y":250},{"r":2,"v":2.1,"x":62,"y":225},{"r":2,"v":2.1,"x":73,"y":220},{"r":2,"v":2.1,"x":73,"y":190},
{"r":3,"v":1.95,"x":160,"y":182},{"r":3,"v":1.95,"x":215,"y":182},{"r":3,"v":1.95,"x":260,"y":190},{"r":3,"v":1.95,"x":350,"y":215},{"r":3,"v":1.95,"x":450,"y":245},{"r":3,"v":1.95,"x":560,"y":285},{"r":3,"v":1.95,"x":650,"y":320},{"r":3,"v":1.95,"x":730,"y":355},{"r":3,"v":1.95,"x":745,"y":385},{"r":3,"v":1.95,"x":720,"y":400},{"r":3,"v":1.95,"x":690,"y":400},{"r":3,"v":1.95,"x":640,"y":385},{"r":3,"v":1.95,"x":570,"y":365},{"r":3,"v":1.95,"x":500,"y":350},{"r":3,"v":1.95,"x":430,"y":345},{"r":3,"v":1.95,"x":330,"y":335},{"r":3,"v":1.95,"x":270,"y":322},{"r":3,"v":1.95,"x":172,"y":303},{"r":3,"v":1.95,"x":172,"y":250},
{"r":4,"v":1.6,"x":190,"y":200},{"r":4,"v":1.6,"x":250,"y":205},{"r":4,"v":1.6,"x":330,"y":230},{"r":4,"v":1.6,"x":420,"y":260},{"r":4,"v":1.6,"x":510,"y":290},{"r":4,"v":1.6,"x":600,"y":330},{"r":4,"v":1.6,"x":700,"y":375},{"r":4,"v":1.6,"x":640,"y":370},{"r":4,"v":1.6,"x":530,"y":340},{"r":4,"v":1.6,"x":420,"y":315},{"r":4,"v":1.6,"x":300,"y":300},{"r":4,"v":1.6,"x":195,"y":285},
{"r":5,"v":1.95,"x":30,"y":500},{"r":5,"v":1.95,"x":30,"y":345},{"r":5,"v":1.95,"x":42,"y":305},{"r":5,"v":1.95,"x":172,"y":305},{"r":5,"v":1.95,"x":270,"y":325},{"r":5,"v":1.95,"x":330,"y":345},{"r":5,"v":1.95,"x":385,"y":360},{"r":5,"v":1.95,"x":440,"y":385},{"r":5,"v":1.95,"x":495,"y":395},{"r":5,"v":1.95,"x":615,"y":450},{"r":5,"v":1.95,"x":595,"y":465},{"r":5,"v":1.95,"x":530,"y":480},{"r":5,"v":1.95,"x":480,"y":510},{"r":5,"v":1.95,"x":430,"y":525},{"r":5,"v":1.95,"x":380,"y":550},{"r":5,"v":1.95,"x":300,"y":590},{"r":5,"v":1.95,"x":240,"y":620},{"r":5,"v":1.95,"x":160,"y":655},{"r":5,"v":1.95,"x":100,"y":680},{"r":5,"v":1.95,"x":85,"y":685},{"r":5,"v":1.95,"x":75,"y":650},{"r":5,"v":1.95,"x":62,"y":600},{"r":5,"v":1.95,"x":52,"y":560},{"r":5,"v":1.95,"x":42,"y":510},
{"r":6,"v":1.55,"x":50,"y":480},{"r":6,"v":1.55,"x":50,"y":340},{"r":6,"v":1.55,"x":172,"y":312},{"r":6,"v":1.55,"x":270,"y":332},{"r":6,"v":1.55,"x":330,"y":350},{"r":6,"v":1.55,"x":385,"y":365},{"r":6,"v":1.55,"x":440,"y":390},{"r":6,"v":1.55,"x":495,"y":400},{"r":6,"v":1.55,"x":600,"y":450},{"r":6,"v":1.55,"x":530,"y":470},{"r":6,"v":1.55,"x":400,"y":470},{"r":6,"v":1.55,"x":250,"y":480},{"r":6,"v":1.55,"x":150,"y":520},{"r":6,"v":1.55,"x":100,"y":640},{"r":6,"v":1.55,"x":120,"y":665},{"r":6,"v":1.55,"x":85,"y":675},{"r":6,"v":1.55,"x":75,"y":620},{"r":6,"v":1.55,"x":62,"y":560},
{"r":7,"v":1.25,"x":75,"y":440},{"r":7,"v":1.25,"x":75,"y":340},{"r":7,"v":1.25,"x":172,"y":320},{"r":7,"v":1.25,"x":270,"y":338},{"r":7,"v":1.25,"x":330,"y":355},{"r":7,"v":1.25,"x":385,"y":370},{"r":7,"v":1.25,"x":440,"y":395},{"r":7,"v":1.25,"x":495,"y":405},{"r":7,"v":1.25,"x":585,"y":448},{"r":7,"v":1.25,"x":480,"y":455},{"r":7,"v":1.25,"x":330,"y":430},{"r":7,"v":1.25,"x":200,"y":440},{"r":7,"v":1.25,"x":110,"y":470},{"r":7,"v":1.25,"x":80,"y":480}],
"spkC4":[{"v":1.95,"x":110,"y":415},{"v":1.95,"x":143,"y":397},{"v":1.95,"x":165,"y":405},{"v":1.95,"x":208,"y":405},{"v":1.95,"x":130,"y":430},{"v":1.95,"x":175,"y":425},{"v":1.95,"x":228,"y":418},{"v":1.95,"x":98,"y":440},{"v":1.95,"x":150,"y":445},{"v":1.95,"x":208,"y":432},{"v":1.95,"x":270,"y":420},{"v":1.95,"x":300,"y":430},{"v":1.95,"x":325,"y":432},{"v":1.95,"x":120,"y":460},{"v":1.95,"x":180,"y":450},{"v":1.95,"x":240,"y":445},{"v":1.95,"x":350,"y":450},{"v":1.95,"x":380,"y":450},{"v":1.25,"x":130,"y":480},{"v":1.25,"x":170,"y":470},{"v":1.25,"x":215,"y":465},{"v":1.25,"x":270,"y":465},{"v":1.25,"x":330,"y":470},{"v":1.25,"x":100,"y":510},{"v":1.25,"x":140,"y":495},{"v":1.25,"x":190,"y":490},{"v":1.25,"x":350,"y":490},{"v":1.25,"x":420,"y":490},{"v":1.25,"x":80,"y":530},{"v":1.25,"x":125,"y":520},{"v":1.25,"x":150,"y":530},{"v":1.25,"x":90,"y":580},{"v":1.25,"x":140,"y":560},{"v":1.25,"x":130,"y":590},{"v":1.25,"x":100,"y":620},{"v":1.25,"x":120,"y":640},{"v":1.25,"x":140,"y":655},{"v":1.25,"x":100,"y":550},{"v":2.6,"x":208,"y":521},{"v":2.6,"x":252,"y":521},{"v":2.6,"x":296,"y":521},{"v":2.6,"x":219,"y":540},{"v":2.6,"x":263,"y":540},{"v":2.6,"x":340,"y":547},{"v":2.6,"x":185,"y":556},{"v":2.6,"x":230,"y":556},{"v":2.6,"x":285,"y":547},{"v":2.6,"x":316,"y":556},{"v":2.6,"x":380,"y":547},{"v":2.6,"x":208,"y":565},{"v":2.6,"x":250,"y":565},{"v":2.6,"x":280,"y":575},{"v":2.6,"x":330,"y":572},{"v":2.6,"x":196,"y":575},{"v":2.6,"x":240,"y":590},{"v":2.6,"x":219,"y":583},{"v":2.6,"x":263,"y":583},{"v":2.6,"x":175,"y":600},{"v":2.6,"x":208,"y":590},{"v":2.6,"x":185,"y":610},{"v":2.6,"x":208,"y":610},{"v":2.6,"x":250,"y":610},{"v":2.6,"x":285,"y":590}]
},
"concat":[
{"width":290,"height":264,"encoding":{"x":{"field":"x","type":"quantitative","scale":{"domain":[0,290],"nice":false,"zero":false},"axis":null},"y":{"field":"y","type":"quantitative","scale":{"domain":[0,264],"reverse":true,"nice":false,"zero":false},"axis":null},"text":{"field":"t"}},
"layer":[{"data":{"values":[{"x":13,"y":44,"t":"A"}]},"mark":{"type":"text","align":"left","baseline":"alphabetic","fontSize":34,"fontWeight":"bold","color":"#231f20"}}]},
{"width":210,"height":234,"encoding":{"x":{"field":"x","type":"quantitative","scale":{"domain":[-4.35,74],"nice":false,"zero":false},"axis":{"values":[0,20,40,60],"tickSize":5,"labelPadding":9,"format":"d"}},"y":{"field":"y","type":"quantitative","scale":{"domain":[-0.72,12.73],"nice":false,"zero":false},"axis":{"values":[0,5,10],"domain":false,"tickSize":5,"labelPadding":7,"format":"d"}}},
"layer":[
{"data":{"values":[{"x":-4.35,"y":-0.72,"y2":10.46}]},"mark":{"type":"rule","color":"#262626","strokeWidth":1.2},"encoding":{"y2":{"field":"y2"}}},
{"data":{"values":[{"x":1.9,"y":8.12},{"x":5.1,"y":7.68},{"x":6.3,"y":3.33},{"x":8.7,"y":3.98},{"x":11.6,"y":2.85},{"x":13,"y":9.08},{"x":14.3,"y":0.21},{"x":17.8,"y":3.66},{"x":22.1,"y":7.22},{"x":25.8,"y":9.5},{"x":28.8,"y":4.2},{"x":29.1,"y":1.02},{"x":31.4,"y":6.42},{"x":31.6,"y":1.19},{"x":33.8,"y":4.77},{"x":34.8,"y":4.73},{"x":34.7,"y":2.59},{"x":41.2,"y":3.35},{"x":42.1,"y":1.25},{"x":44.7,"y":5.19},{"x":47.8,"y":5.5},{"x":48.4,"y":1.13},{"x":51.6,"y":0.71},{"x":52.8,"y":9.46},{"x":54.3,"y":8.49},{"x":56.6,"y":6.21},{"x":57.9,"y":7.74},{"x":62.6,"y":7.32},{"x":62.7,"y":1.42},{"x":66.8,"y":8.05}]},"mark":{"type":"point","filled":true,"color":"black","size":36,"opacity":1}},
{"data":{"values":[{"x":1,"y":9.1},{"x":70.9,"y":4.39}]},"mark":{"type":"line","color":"#1a1a8c","strokeWidth":1.7}},
{"data":{"values":[{"x":0,"y":8.74},{"x":69.9,"y":4.0}]},"mark":{"type":"line","color":"#ff0000","strokeWidth":1.7}},
{"data":{"values":[{"x":-0.6,"y":10.9,"t":"×"}]},"mark":{"type":"text","align":"center","baseline":"middle","fontSize":24,"color":"#595959"},"encoding":{"text":{"field":"t"}}},
{"data":{"values":[{"x":4.2,"y":10.55,"t":"10"}]},"mark":{"type":"text","align":"left","baseline":"alphabetic","fontSize":20,"color":"#262626"},"encoding":{"text":{"field":"t"}}},
{"data":{"values":[{"x":12.8,"y":11.24,"t":"-8"}]},"mark":{"type":"text","align":"left","baseline":"alphabetic","fontSize":15,"color":"#262626"},"encoding":{"text":{"field":"t"}}},
{"data":{"values":[{"x":-25.2,"y":-0.53,"t":"g"},{"x":-25.2,"y":4.0,"t":"[mS/cm"},{"x":-25.2,"y":9.57,"t":"]"}]},"mark":{"type":"text","align":"left","baseline":"alphabetic","angle":270,"fontSize":24,"color":"#262626"},"encoding":{"text":{"field":"t"}}},
{"data":{"values":[{"x":-21.1,"y":0.28,"t":"Cav22"},{"x":-29.9,"y":8.95,"t":"2"}]},"mark":{"type":"text","align":"left","baseline":"alphabetic","angle":270,"fontSize":19,"color":"#262626"},"encoding":{"text":{"field":"t"}}},
{"data":{"values":[{"x":4.6,"y":-4.51,"t":"g"}]},"mark":{"type":"text","align":"left","baseline":"alphabetic","fontSize":24,"color":"#262626"},"encoding":{"text":{"field":"t"}}},
{"data":{"values":[{"x":9.8,"y":-5.18,"t":"Kv34"}]},"mark":{"type":"text","align":"left","baseline":"alphabetic","fontSize":21,"color":"#262626"},"encoding":{"text":{"field":"t"}}},
{"data":{"values":[{"x":29.9,"y":-4.51,"t":"[mS/cm"},{"x":62.1,"y":-4.51,"t":"]"}]},"mark":{"type":"text","align":"left","baseline":"alphabetic","fontSize":22,"color":"#262626"},"encoding":{"text":{"field":"t"}}},
{"data":{"values":[{"x":58,"y":-3.82,"t":"2"}]},"mark":{"type":"text","align":"left","baseline":"alphabetic","fontSize":19,"color":"#262626"},"encoding":{"text":{"field":"t"}}}
]},
{"width":527,"height":264,"encoding":{"x":{"field":"x","type":"quantitative","scale":{"domain":[-690,891],"nice":false,"zero":false},"axis":null},"y":{"field":"y","type":"quantitative","scale":{"domain":[-60,732],"reverse":true,"nice":false,"zero":false},"axis":null}},
"layer":[
{"data":{"name":"polyB"},"mark":{"type":"line","filled":true,"strokeWidth":0},"encoding":{"order":{"value":null},"detail":{"field":"r"},"color":{"field":"v","type":"quantitative","legend":null,"scale":{"domain":[0,0.999,1,1.999,2,6],"range":["#ffffff","#eeb01e","#008000","#78ae34","#00b0f0","#000aa8"],"interpolate":"rgb"}}}},
{"data":{"name":"spkB"},"mark":{"type":"point","shape":"square","filled":true,"size":14,"opacity":1},"encoding":{"color":{"field":"v","type":"quantitative","legend":null,"scale":{"domain":[0,0.999,1,1.999,2,6],"range":["#ffffff","#eeb01e","#008000","#78ae34","#00b0f0","#000aa8"],"interpolate":"rgb"}}}},
{"data":{"values":[{"x":131,"y":381},{"x":398,"y":382},{"x":131,"y":625}]},"mark":{"type":"point","filled":true,"color":"#ff0000","size":48,"opacity":1}},
{"data":{"values":[{"x":-90,"y":75,"t":"B"}]},"mark":{"type":"text","align":"left","baseline":"alphabetic","fontSize":34,"fontWeight":"bold","color":"#231f20"},"encoding":{"text":{"field":"t"}}}
]},
{"width":25,"height":264,"encoding":{"y":{"field":"a","type":"quantitative","scale":{"domain":[0,6.336],"nice":false,"zero":false},"axis":{"values":[0,2,4,6],"orient":"right","domain":false,"tickSize":6,"labelPadding":10,"format":"d"}}},
"layer":[
{"data":{"values":[{"a":0,"b":0.13,"v":0.05},{"a":0.1,"b":0.23,"v":0.15},{"a":0.2,"b":0.33,"v":0.25},{"a":0.3,"b":0.43,"v":0.35},{"a":0.4,"b":0.53,"v":0.45},{"a":0.5,"b":0.63,"v":0.55},{"a":0.6,"b":0.73,"v":0.65},{"a":0.7,"b":0.83,"v":0.75},{"a":0.8,"b":0.93,"v":0.85},{"a":0.9,"b":1.03,"v":0.95},{"a":1,"b":1.13,"v":1.05},{"a":1.1,"b":1.23,"v":1.15},{"a":1.2,"b":1.33,"v":1.25},{"a":1.3,"b":1.43,"v":1.35},{"a":1.4,"b":1.53,"v":1.45},{"a":1.5,"b":1.63,"v":1.55},{"a":1.6,"b":1.73,"v":1.65},{"a":1.7,"b":1.83,"v":1.75},{"a":1.8,"b":1.93,"v":1.85},{"a":1.9,"b":2.03,"v":1.95},{"a":2,"b":2.23,"v":2.1},{"a":2.2,"b":2.43,"v":2.3},{"a":2.4,"b":2.63,"v":2.5},{"a":2.6,"b":2.83,"v":2.7},{"a":2.8,"b":3.03,"v":2.9},{"a":3,"b":3.23,"v":3.1},{"a":3.2,"b":3.43,"v":3.3},{"a":3.4,"b":3.63,"v":3.5},{"a":3.6,"b":3.83,"v":3.7},{"a":3.8,"b":4.03,"v":3.9},{"a":4,"b":4.23,"v":4.1},{"a":4.2,"b":4.43,"v":4.3},{"a":4.4,"b":4.63,"v":4.5},{"a":4.6,"b":4.83,"v":4.7},{"a":4.8,"b":5.03,"v":4.9},{"a":5,"b":5.23,"v":5.1},{"a":5.2,"b":5.43,"v":5.3},{"a":5.4,"b":5.63,"v":5.5},{"a":5.6,"b":5.83,"v":5.7},{"a":5.8,"b":6,"v":5.9}]},"mark":{"type":"rect"},"encoding":{"y2":{"field":"b"},"color":{"field":"v","type":"quantitative","legend":null,"scale":{"domain":[0,0.999,1,1.999,2,6],"range":["#ffffff","#eeb01e","#008000","#78ae34","#00b0f0","#000aa8"],"interpolate":"rgb"}}}},
{"data":{"values":[{"a":0,"b":6}]},"mark":{"type":"rect","fillOpacity":0,"stroke":"#262626","strokeWidth":1.5},"encoding":{"y2":{"field":"b"}}},
{"data":{"values":[{"a":2.976,"p":3.24,"t":"Fitness"}]},"mark":{"type":"text","align":"center","baseline":"middle","angle":270,"fontSize":20,"color":"#262626"},"encoding":{"x":{"field":"p","type":"quantitative","scale":{"domain":[0,1],"nice":false,"zero":false},"axis":null},"text":{"field":"t"}}}
]},
{"width":290,"height":317,"encoding":{"x":{"field":"x","type":"quantitative","scale":{"domain":[-30,840],"nice":false,"zero":false},"axis":null},"y":{"field":"y","type":"quantitative","scale":{"domain":[-273,678],"reverse":true,"nice":false,"zero":false},"axis":null}},
"layer":[
{"data":{"name":"polyC1"},"mark":{"type":"line","filled":true,"strokeWidth":0},"encoding":{"order":{"value":null},"detail":{"field":"r"},"color":{"field":"v","type":"quantitative","legend":null,"scale":{"domain":[0,0.999,1,1.999,2,6],"range":["#ffffff","#eeb01e","#008000","#78ae34","#00b0f0","#000aa8"],"interpolate":"rgb"}}}},
{"data":{"values":[{"x":150,"y":384},{"x":492,"y":384},{"x":150,"y":659}]},"mark":{"type":"point","filled":true,"color":"#ff0000","size":48,"opacity":1}},
{"data":{"values":[{"x":486,"y":-51,"t":"-10%"}]},"mark":{"type":"text","align":"center","baseline":"middle","fontSize":20,"color":"black"},"encoding":{"text":{"field":"t"}}},
{"data":{"values":[{"x":15,"y":-75,"t":"C"}]},"mark":{"type":"text","align":"left","baseline":"alphabetic","fontSize":34,"fontWeight":"bold","color":"#231f20"},"encoding":{"text":{"field":"t"}}}
]},
{"width":210,"height":317,"encoding":{"x":{"field":"x","type":"quantitative","scale":{"domain":[-60,570],"nice":false,"zero":false},"axis":null},"y":{"field":"y","type":"quantitative","scale":{"domain":[-273,678],"reverse":true,"nice":false,"zero":false},"axis":null}},
"layer":[
{"data":{"name":"polyC2"},"mark":{"type":"line","filled":true,"strokeWidth":0},"encoding":{"order":{"value":null},"detail":{"field":"r"},"color":{"field":"v","type":"quantitative","legend":null,"scale":{"domain":[0,0.999,1,1.999,2,6],"range":["#ffffff","#eeb01e","#008000","#78ae34","#00b0f0","#000aa8"],"interpolate":"rgb"}}}},
{"data":{"name":"spkC2"},"mark":{"type":"point","shape":"square","filled":true,"size":14,"opacity":1},"encoding":{"color":{"field":"v","type":"quantitative","legend":null,"scale":{"domain":[0,0.999,1,1.999,2,6],"range":["#ffffff","#eeb01e","#008000","#78ae34","#00b0f0","#000aa8"],"interpolate":"rgb"}}}},
{"data":{"values":[{"x":119,"y":393},{"x":441,"y":393},{"x":119,"y":653}]},"mark":{"type":"point","filled":true,"color":"#ff0000","size":48,"opacity":1}},
{"data":{"values":[{"x":459,"y":-51,"t":"-5%"}]},"mark":{"type":"text","align":"center","baseline":"middle","fontSize":20,"color":"black"},"encoding":{"text":{"field":"t"}}}
]},
{"width":527,"height":317,"encoding":{"x":{"field":"x","type":"quantitative","scale":{"domain":[-360,1221],"nice":false,"zero":false},"axis":null},"y":{"field":"y","type":"quantitative","scale":{"domain":[-258,693],"reverse":true,"nice":false,"zero":false},"axis":null}},
"layer":[
{"data":{"name":"polyC3"},"mark":{"type":"line","filled":true,"strokeWidth":0},"encoding":{"order":{"value":null},"detail":{"field":"r"},"color":{"field":"v","type":"quantitative","legend":null,"scale":{"domain":[0,0.999,1,1.999,2,6],"range":["#ffffff","#eeb01e","#008000","#78ae34","#00b0f0","#000aa8"],"interpolate":"rgb"}}}},
{"data":{"name":"spkC3"},"mark":{"type":"point","shape":"square","filled":true,"size":14,"opacity":1},"encoding":{"color":{"field":"v","type":"quantitative","legend":null,"scale":{"domain":[0,0.999,1,1.999,2,6],"range":["#ffffff","#eeb01e","#008000","#78ae34","#00b0f0","#000aa8"],"interpolate":"rgb"}}}},
{"data":{"values":[{"x":147,"y":388},{"x":431,"y":388},{"x":147,"y":616}]},"mark":{"type":"point","filled":true,"color":"#ff0000","size":48,"opacity":1}},
{"data":{"values":[{"x":417,"y":-36,"t":"+5%"}]},"mark":{"type":"text","align":"center","baseline":"middle","fontSize":20,"color":"black"},"encoding":{"text":{"field":"t"}}}
]},
{"width":25,"height":317,"encoding":{"x":{"field":"x","type":"quantitative","scale":{"domain":[306,381],"nice":false,"zero":false},"axis":null},"y":{"field":"y","type":"quantitative","scale":{"domain":[-258,693],"reverse":true,"nice":false,"zero":false},"axis":null}},
"layer":[
{"data":{"name":"polyC4"},"mark":{"type":"line","filled":true,"strokeWidth":0},"encoding":{"order":{"value":null},"detail":{"field":"r"},"color":{"field":"v","type":"quantitative","legend":null,"scale":{"domain":[0,0.999,1,1.999,2,6],"range":["#ffffff","#eeb01e","#008000","#78ae34","#00b0f0","#000aa8"],"interpolate":"rgb"}}}},
{"data":{"name":"spkC4"},"mark":{"type":"point","shape":"square","filled":true,"size":14,"opacity":1},"encoding":{"color":{"field":"v","type":"quantitative","legend":null,"scale":{"domain":[0,0.999,1,1.999,2,6],"range":["#ffffff","#eeb01e","#008000","#78ae34","#00b0f0","#000aa8"],"interpolate":"rgb"}}}},
{"data":{"values":[{"x":166,"y":378},{"x":435,"y":378},{"x":166,"y":599}]},"mark":{"type":"point","filled":true,"color":"#ff0000","size":48,"opacity":1}},
{"data":{"values":[{"x":396,"y":-36,"t":"+10%"}]},"mark":{"type":"text","align":"center","baseline":"middle","fontSize":20,"color":"black"},"encoding":{"text":{"field":"t"}}}
]}
]}
